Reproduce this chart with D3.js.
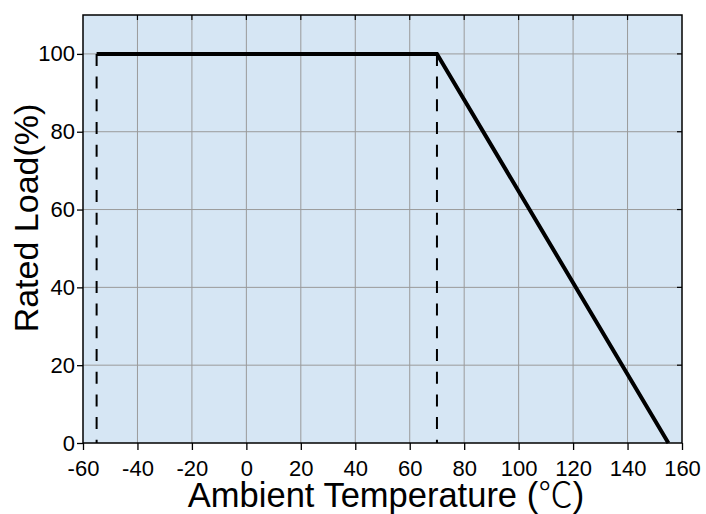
<!DOCTYPE html>
<html><head><meta charset="utf-8">
<script src="https://cdn.jsdelivr.net/npm/d3@7"></script>
<style>body{margin:0;background:#fff;}svg{display:block;font-family:"Liberation Sans",Arial,sans-serif;}</style>
</head><body>
<svg id="c" width="706" height="514"></svg>
<script>
const xTicks = [-60,-40,-20,0,20,40,60,80,100,120,140,160];
const yTicks = [0,20,40,60,80,100];
const curveTemp = [-55, 70, 155];
const curveLoad = [100, 100, 0];
const dashTemps = [-55, 70];
const xTitleMain = "Ambient Temperature (";
const xTitleUnit = "\u2103";
const xTitleEnd = ")";
const yTitle = "Rated Load(%)";

const svg = d3.select("#c");
const L=83, R=682, T=15, B=443;
const x = d3.scaleLinear().domain([-60,160]).range([L,R]);
const y = d3.scaleLinear().domain([0,110]).range([B,T]);

svg.append("rect").attr("x",L).attr("y",T).attr("width",R-L).attr("height",B-T).attr("fill","#d6e6f4");

// grid
svg.append("g").selectAll("line").data(xTicks.slice(1,-1)).join("line")
  .attr("x1",d=>x(d)).attr("x2",d=>x(d)).attr("y1",T).attr("y2",B)
  .attr("stroke","#9a9a9a").attr("stroke-width",1);
svg.append("g").selectAll("line").data(yTicks.slice(1)).join("line")
  .attr("x1",L).attr("x2",R).attr("y1",d=>y(d)).attr("y2",d=>y(d))
  .attr("stroke","#9a9a9a").attr("stroke-width",1);

// inward ticks on top and right
svg.append("g").selectAll("line").data(xTicks.slice(1,-1)).join("line")
  .attr("x1",d=>x(d)).attr("x2",d=>x(d)).attr("y1",T).attr("y2",T+5).attr("stroke","#000").attr("stroke-width",1.2);
svg.append("g").selectAll("line").data(yTicks.slice(1)).join("line")
  .attr("x1",R-5).attr("x2",R).attr("y1",d=>y(d)).attr("y2",d=>y(d)).attr("stroke","#000").attr("stroke-width",1.2);

// dashed verticals
svg.append("g").selectAll("line").data(dashTemps).join("line")
  .attr("x1",d=>x(d)).attr("x2",d=>x(d)).attr("y1",y(100)).attr("y2",y(0))
  .attr("stroke","#000").attr("stroke-width",2).attr("stroke-dasharray","12,10.7");

// curve
const pts = curveTemp.map((t,i)=>[t,curveLoad[i]]);
svg.append("path").datum(pts)
  .attr("d", d3.line().x(d=>x(d[0])).y(d=>y(d[1])))
  .attr("fill","none").attr("stroke","#000").attr("stroke-width",4).attr("stroke-linejoin","miter");

// border
svg.append("rect").attr("x",L).attr("y",T).attr("width",R-L).attr("height",B-T)
  .attr("fill","none").attr("stroke","#000").attr("stroke-width",1.5);

// axes
const xa = svg.append("g").attr("transform",`translate(0,${B})`)
  .call(d3.axisBottom(x).tickValues(xTicks).tickFormat(d=>String(d)).tickSize(7).tickSizeOuter(0).tickPadding(10));
const ya = svg.append("g").attr("transform",`translate(${L},0)`)
  .call(d3.axisLeft(y).tickValues(yTicks).tickFormat(d=>String(d)).tickSize(6).tickSizeOuter(0).tickPadding(2));
[xa,ya].forEach(a=>{
  a.attr("font-size",22).attr("font-family","'Liberation Sans',Arial,sans-serif");
  a.select(".domain").remove();
  a.selectAll(".tick line").attr("stroke","#000").attr("stroke-width",1.3);
  a.selectAll("text").attr("fill","#000");
});

const xt = svg.append("text").attr("x",386).attr("y",507).attr("text-anchor","middle")
  .attr("font-size",34.5).attr("fill","#000");
xt.append("tspan").text(xTitleMain);
xt.append("tspan").attr("font-family","'Noto Sans CJK SC',sans-serif").attr("font-weight",300).text(xTitleUnit);
xt.append("tspan").text(xTitleEnd);
svg.append("text").attr("transform","translate(38,218) rotate(-90)").attr("text-anchor","middle")
  .attr("font-size",34).attr("fill","#000").text(yTitle);
</script>
</body></html>
